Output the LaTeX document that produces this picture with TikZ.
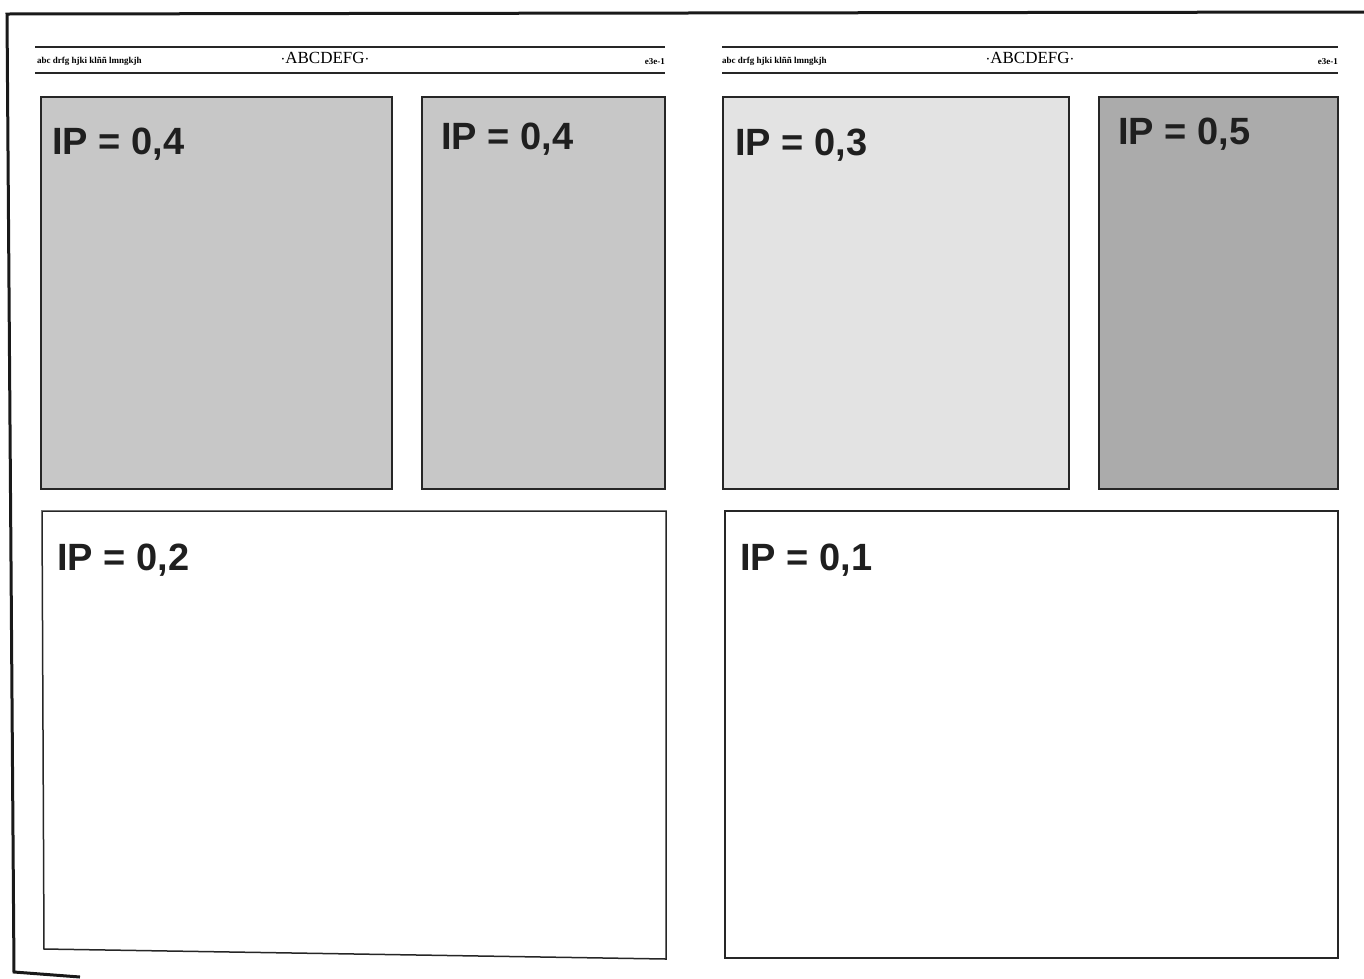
\documentclass[tikz,border=0pt]{standalone}
\usepackage{fontspec}
\setmainfont{Liberation Serif}
\newfontfamily\lsans{Liberation Sans}
\begin{document}
\begin{tikzpicture}[x=1pt,y=-1pt,
  frame/.style={line width=3pt,black!90},
  rule/.style={line width=1.4pt,black!85},
  panel/.style={draw=black!85,line width=1.5pt},
  iplabel/.style={anchor=base west,inner sep=0pt,font=\lsans\bfseries\fontsize{38}{40}\selectfont,text=black!88},
  hdsmall/.style={inner sep=0pt,font=\bfseries\fontsize{9}{10}\selectfont},
  hdtitle/.style={inner sep=0pt,anchor=base,font=\fontsize{17}{19}\selectfont}]
\useasboundingbox (0,0) rectangle (1364,978);
% page frame
\coordinate (ftr) at (1364,12);
\coordinate (ftl) at (7,14);
\coordinate (fbl) at (14,972);
\coordinate (fbr) at (80,977);
\draw[frame] (ftr) -- (ftl) -- (fbl) -- (fbr);
% header left page
\draw[rule] (35,47) -- (665,47);
\draw[rule] (35,73) -- (665,73);
\node[hdsmall,anchor=base west] (hl1) at (37,63) {abc drfg hjki klññ lmngkjh};
\node[hdtitle] (hl2) at (325,63) {$\cdot$ABCDEFG$\cdot$};
\node[hdsmall,anchor=base east] (hl3) at (665,64) {e3e-1};
% header right page
\draw[rule] (722,47) -- (1338,47);
\draw[rule] (722,73) -- (1338,73);
\node[hdsmall,anchor=base west] (hr1) at (722,63) {abc drfg hjki klññ lmngkjh};
\node[hdtitle] (hr2) at (1030,63) {$\cdot$ABCDEFG$\cdot$};
\node[hdsmall,anchor=base east] (hr3) at (1338,64) {e3e-1};
% panels left page
\draw[panel,fill=black!22] (41,97) rectangle (392,489);
\draw[panel,fill=black!22] (422,97) rectangle (665,489);
\draw[panel,fill=white] (42,511) -- (666,511) -- (666,959) -- (44,949) -- cycle;
% panels right page
\draw[panel,fill=black!11] (723,97) rectangle (1069,489);
\draw[panel,fill=black!33] (1099,97) rectangle (1338,489);
\draw[panel,fill=white] (725,511) rectangle (1338,958);
% labels
\node[iplabel] (a) at (52,154) {IP = 0,4};
\node[iplabel] (b) at (441,149) {IP = 0,4};
\node[iplabel] (c) at (57,570) {IP = 0,2};
\node[iplabel] (d) at (735,155) {IP = 0,3};
\node[iplabel] (e) at (1118,144) {IP = 0,5};
\node[iplabel] (f) at (740,570) {IP = 0,1};
\end{tikzpicture}
\end{document}
